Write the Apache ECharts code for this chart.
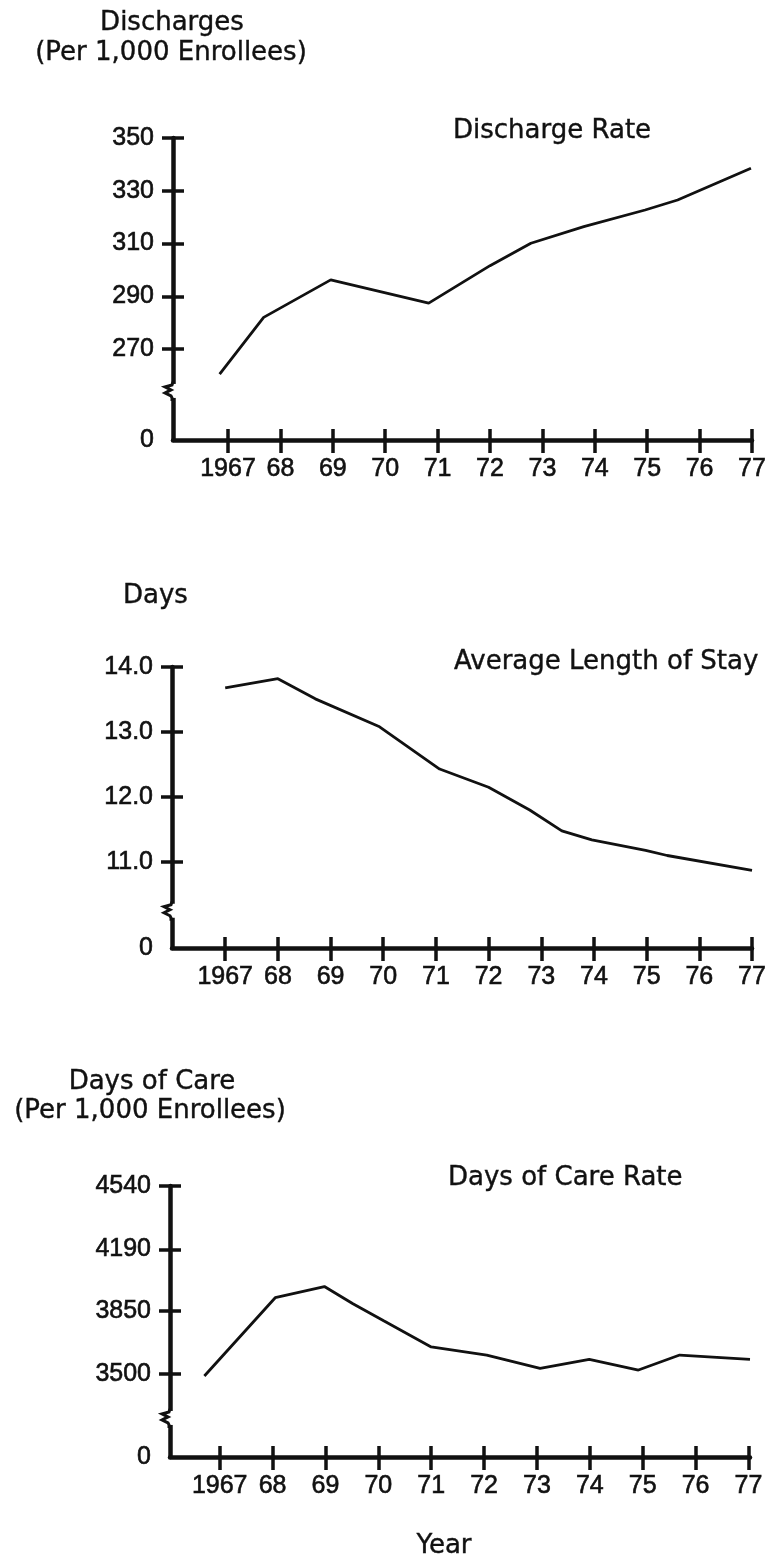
<!DOCTYPE html>
<html>
<head>
<meta charset="utf-8">
<script src="https://cdn.jsdelivr.net/npm/echarts@6/dist/echarts.min.js"></script>
<style>
html,body{margin:0;padding:0;background:#fff;}
#chart{width:771px;height:1568px;}
</style>
</head>
<body>
<div id="chart"></div>
<script>
// ---- shared x categories ----
const years = [1967, 1968, 1969, 1970, 1971, 1972, 1973, 1974, 1975, 1976, 1977];
const yearLabels = ['1967', '68', '69', '70', '71', '72', '73', '74', '75', '76', '77'];

// ---- Panel 1: Discharge Rate (per 1,000 enrollees) ----
const dischargeX = [1966.84, 1967.68, 1968.96, 1970.83, 1972.0, 1972.78, 1973.79, 1974.96, 1975.58, 1976.98];
const dischargeY = [260.5, 282, 296.2, 287.4, 301.6, 310.1, 316.4, 322.7, 326.5, 338.5];
const dischargeTicks = [270, 290, 310, 330, 350];
const dischargeTickLabels = ['270', '290', '310', '330', '350'];

// ---- Panel 2: Average Length of Stay (days) ----
const stayX = [1967.0, 1968.0, 1968.71, 1969.93, 1971.07, 1972.0, 1972.78, 1973.39, 1973.96, 1974.98, 1975.39, 1977.0];
const stayY = [13.68, 13.82, 13.51, 13.08, 12.43, 12.15, 11.80, 11.48, 11.34, 11.18, 11.10, 10.87];
const stayTicks = [11.0, 12.0, 13.0, 14.0];
const stayTickLabels = ['11.0', '12.0', '13.0', '14.0'];

// ---- Panel 3: Days of Care Rate (per 1,000 enrollees) ----
const careX = [1966.71, 1968.05, 1968.98, 1969.52, 1970.11, 1971.0, 1972.05, 1973.06, 1973.99, 1974.92, 1975.7, 1977.03];
const careY = [3489, 3922, 3984, 3889, 3793, 3650, 3605, 3531, 3581, 3522, 3605, 3581];
const careTicks = [3500, 3850, 4190, 4540];
const careTickLabels = ['3500', '3850', '4190', '4540'];

const zeroLabel = '0';

// ---- layout (positions & styles) ----
const INK = '#111';
const NUM_FONT = 'Liberation Sans';
const TXT_FONT = 'DejaVu Sans';

const panels = [
  { grid: { left: 173, top: 138, width: 579, height: 302 }, xMin: 1965.95, xMax: 1977,
    yMin: 235.5, yMax: 350, ticks: dischargeTicks, labels: dischargeTickLabels,
    xs: dischargeX, ys: dischargeY, breakAt: 254.1 },
  { grid: { left: 172, top: 667, width: 580, height: 281 }, xMin: 1965.99, xMax: 1977,
    yMin: 9.677, yMax: 14, ticks: stayTicks, labels: stayTickLabels,
    xs: stayX, ys: stayY, breakAt: 10.25 },
  { grid: { left: 170, top: 1186, width: 580, height: 271 }, xMin: 1966.06, xMax: 1977.03,
    yMin: 3041, yMax: 4540, ticks: careTicks, labels: careTickLabels,
    xs: careX, ys: careY, breakAt: 3257 }
];

const grids = [], xAxes = [], yAxes = [], series = [];

panels.forEach((p, i) => {
  grids.push(Object.assign({ outerBoundsMode: 'none', containLabel: false }, p.grid));
  const xBase = {
    type: 'value', gridIndex: i, min: p.xMin, max: p.xMax, position: 'bottom',
    splitLine: { show: false }
  };
  xAxes.push(Object.assign({}, xBase, {
    axisLine: { show: true, lineStyle: { color: INK, width: 4.5 } },
    axisTick: { show: true, inside: false, length: 13, lineStyle: { color: INK, width: 3.5 }, customValues: years },
    axisLabel: {
      show: true, customValues: years, margin: 17, color: INK,
      fontFamily: NUM_FONT, fontSize: 25, textBorderColor: INK, textBorderWidth: 0.6,
      formatter: v => yearLabels[years.indexOf(Math.round(v))]
    }
  }));
  xAxes.push(Object.assign({}, xBase, {
    axisLine: { show: false },
    axisTick: { show: true, inside: true, length: 11, lineStyle: { color: INK, width: 3.5 }, customValues: years },
    axisLabel: { show: false }
  }));

  const yBase = {
    type: 'value', gridIndex: i, min: p.yMin, max: p.yMax, position: 'left',
    splitLine: { show: false }
  };
  const labelVals = [p.yMin].concat(p.ticks);
  yAxes.push(Object.assign({}, yBase, {
    axisLine: { show: true, lineStyle: { color: INK, width: 4.5 } },
    axisTick: { show: true, inside: false, length: 11, lineStyle: { color: INK, width: 3.5 }, customValues: p.ticks },
    axisLabel: {
      show: true, customValues: labelVals, margin: 19, color: INK,
      fontFamily: NUM_FONT, fontSize: 25, textBorderColor: INK, textBorderWidth: 0.6,
      formatter: v => {
        if (Math.abs(v - p.yMin) < 1e-9) return zeroLabel;
        const k = p.ticks.findIndex(t => Math.abs(t - v) < 1e-9);
        return k >= 0 ? p.labels[k] : '';
      }
    }
  }));
  yAxes.push(Object.assign({}, yBase, {
    axisLine: { show: false },
    axisTick: { show: true, inside: true, length: 11, lineStyle: { color: INK, width: 3.5 }, customValues: p.ticks },
    axisLabel: { show: false }
  }));

  series.push({
    type: 'line', xAxisIndex: 2 * i, yAxisIndex: 2 * i,
    data: p.xs.map((x, k) => [x, p.ys[k]]),
    showSymbol: false, smooth: false, silent: true,
    lineStyle: { color: INK, width: 2.8 }
  });

  // axis break squiggle, placed through the axis scales
  series.push({
    type: 'custom', xAxisIndex: 2 * i, yAxisIndex: 2 * i, clip: false, silent: true, z: 10,
    data: [[p.xMin, p.breakAt]],
    renderItem: (params, api) => {
      const c = api.coord([api.value(0), api.value(1)]);
      const x = c[0], y = c[1];
      return {
        type: 'group',
        children: [
          { type: 'rect', shape: { x: x - 4, y: y - 7, width: 8, height: 14 }, style: { fill: '#fff' } },
          { type: 'polyline',
            shape: { points: [[x, y - 9], [x - 1, y - 6], [x - 8, y - 4], [x - 2, y - 1], [x - 8, y + 2], [x - 2, y + 5], [x - 1, y + 7], [x - 1, y + 10]] },
            style: { stroke: INK, lineWidth: 3, fill: null } }
        ]
      };
    }
  });
});

function txt(text, x, y, align) {
  return {
    type: 'text', x: x, y: y, silent: true,
    style: { text: text, fill: INK, font: '26px "' + TXT_FONT + '"', textAlign: align, textVerticalAlign: 'middle',
             stroke: INK, lineWidth: 0.4 }
  };
}

const graphics = [
  txt('Discharges', 172, 23, 'center'),
  txt('(Per 1,000 Enrollees)', 171, 53, 'center'),
  txt('Discharge Rate', 453, 131, 'left'),
  txt('Days', 123, 596, 'left'),
  txt('Average Length of Stay', 454, 662, 'left'),
  txt('Days of Care', 152, 1082, 'center'),
  txt('(Per 1,000 Enrollees)', 150, 1111, 'center'),
  txt('Days of Care Rate', 448, 1178, 'left'),
  txt('Year', 444, 1546, 'center')
];

const chart = echarts.init(document.getElementById('chart'), null, { renderer: 'canvas' });
chart.setOption({
  animation: false,
  backgroundColor: '#fff',
  grid: grids,
  xAxis: xAxes,
  yAxis: yAxes,
  series: series,
  graphic: graphics
});
</script>
</body>
</html>
